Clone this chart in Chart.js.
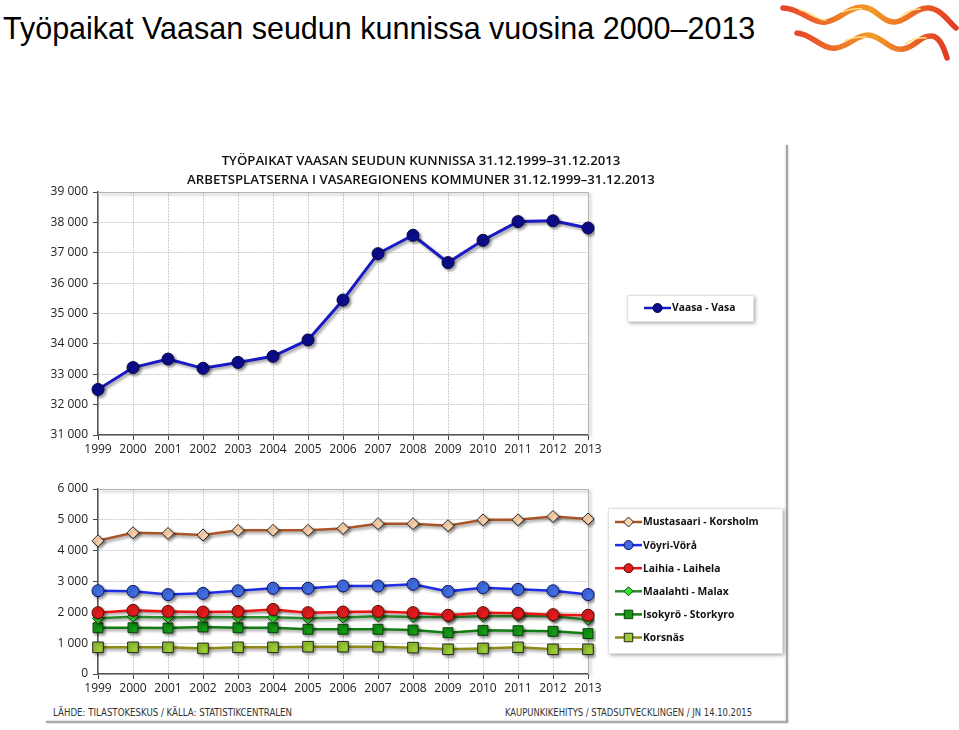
<!DOCTYPE html>
<html>
<head>
<meta charset="utf-8">
<script src="https://cdn.jsdelivr.net/npm/chart.js@4.4.0/dist/chart.umd.min.js"></script>
<style>
  body { margin: 0; background: #fff; width: 959px; height: 730px; overflow: hidden; position: relative; font-family: "Liberation Sans", Arial, sans-serif; }
  #heading { position: absolute; left: 3px; top: 10px; font-size: 30.5px; line-height: 36px; color: #000; white-space: nowrap; }
  #logo { position: absolute; left: 776px; top: 0; }
  .edge { position: absolute; background: #a9a9a9; box-shadow: 0 0 2px rgba(0,0,0,.35); }
  .wrap { position: absolute; left: 40px; width: 762px; }
  #topWrap { top: 140px; height: 323px; }
  #bottomWrap { top: 470px; height: 234px; }
  .foot { position: absolute; top: 707px; font-size: 10px; color: #333; white-space: nowrap; transform-origin: 0 0;
          font-family: "Liberation Sans Narrow", "DejaVu Sans Condensed", sans-serif; }
</style>
</head>
<body>
<div id="heading">Työpaikat Vaasan seudun kunnissa vuosina 2000–2013</div>
<svg id="logo" width="183" height="64" viewBox="776 0 183 64">
  <defs>
    <linearGradient id="wave" x1="0" y1="0" x2="1" y2="0">
      <stop offset="0" stop-color="#e8452a"/>
      <stop offset="0.5" stop-color="#f39a26"/>
      <stop offset="1" stop-color="#e23a24"/>
    </linearGradient>
  </defs>
  <g fill="none" stroke-linecap="round">
    <path d="M783,8 C800,8 812,24 826,22 C840,20 848,7 862,7 C876,7 882,23 895,22 C908,21 915,7 929,8 C941,9 949,22 956,28" stroke="url(#wave)" stroke-width="5.5"/>
    <path d="M797,33 C812,34 822,50 836,48 C850,46 856,35 868,35 C881,35 889,51 903,49 C916,47 920,35 932,36 C941,37 945,52 947,58" stroke="url(#wave)" stroke-width="5.5"/>
    <path d="M800,10 C812,12 818,21 826,20 M842,12 C850,9 856,8 862,9 M900,17 C906,12 912,9 920,9" stroke="#fde08a" stroke-width="1.5"/>
    <path d="M845,41 C852,37 858,37 866,37 M905,44 C912,39 918,37 926,38" stroke="#fde08a" stroke-width="1.5"/>
  </g>
</svg>
<div class="edge" style="left:786px;top:145px;width:2px;height:577px"></div>
<div class="edge" style="left:46px;top:721px;width:742px;height:2px"></div>
<div class="wrap" id="topWrap"><canvas id="topChart" width="762" height="323"></canvas></div>
<div class="wrap" id="bottomWrap"><canvas id="bottomChart" width="762" height="234"></canvas></div>
<div class="foot" id="footLeft" style="left:53px" data-w="239">LÄHDE: TILASTOKESKUS / KÄLLA: STATISTIKCENTRALEN</div>
<div class="foot" id="footRight" style="left:505px" data-w="247">KAUPUNKIKEHITYS  / STADSUTVECKLINGEN / JN 14.10.2015</div>

<script>
// data
const years = ["1999", "2000", "2001", "2002", "2003", "2004", "2005", "2006", "2007", "2008", "2009", "2010", "2011", "2012", "2013"];

const vaasa      = [32500, 33220, 33500, 33195, 33390, 33590, 34130, 35445, 36970, 37575, 36675, 37410, 38025, 38050, 37815];

const mustasaari = [4320, 4580, 4560, 4510, 4660, 4660, 4660, 4720, 4875, 4875, 4810, 5000, 5000, 5110, 5030];
const voyri      = [2700, 2680, 2575, 2615, 2700, 2780, 2780, 2855, 2855, 2910, 2680, 2800, 2745, 2700, 2575];
const laihia     = [1990, 2065, 2030, 2010, 2030, 2095, 1990, 2010, 2030, 1990, 1905, 1990, 1970, 1925, 1905];
const maalahti   = [1805, 1860, 1830, 1850, 1840, 1840, 1805, 1830, 1870, 1850, 1850, 1870, 1880, 1880, 1760];
const isokyro    = [1500, 1500, 1490, 1525, 1500, 1500, 1450, 1450, 1450, 1425, 1340, 1415, 1405, 1385, 1310];
const korsnas    = [865, 865, 865, 830, 865, 865, 885, 885, 885, 855, 800, 830, 865, 800, 800];

const topTitle = [
  "TYÖPAIKAT VAASAN SEUDUN KUNNISSA 31.12.1999–31.12.2013",
  "ARBETSPLATSERNA I VASAREGIONENS KOMMUNER 31.12.1999–31.12.2013"
];

const fmt = (v) => String(v).replace(/\B(?=(\d{3})+(?!\d))/g, " ");
const tickFont = { family: "Open Sans", size: 12 };

// drop shadow for lines and markers, light frame on top/right of plot
const plotStyle = {
  id: "plotStyle",
  beforeDatasetsDraw(chart) {
    const { ctx, chartArea: a } = chart;
    ctx.save();
    ctx.shadowColor = "rgba(0,0,0,0.35)";
    ctx.shadowBlur = 3;
    ctx.shadowOffsetX = 2;
    ctx.shadowOffsetY = 2;
    ctx.strokeStyle = "#b5b5b5";
    ctx.lineWidth = 1;
    ctx.beginPath();
    ctx.moveTo(a.left, a.top + 0.5);
    ctx.lineTo(a.right + 0.5, a.top + 0.5);
    ctx.lineTo(a.right + 0.5, a.bottom);
    ctx.stroke();
    ctx.shadowColor = "rgba(0,0,0,0.4)";
  },
  afterDatasetsDraw(chart) {
    chart.ctx.restore();
  }
};

function marker(ctx, style, x, y, r, fill, stroke) {
  ctx.beginPath();
  if (style === "circle") {
    ctx.arc(x, y, r, 0, Math.PI * 2);
  } else if (style === "rectRot") {
    ctx.moveTo(x, y - r); ctx.lineTo(x + r, y); ctx.lineTo(x, y + r); ctx.lineTo(x - r, y); ctx.closePath();
  } else {
    const s = r * Math.SQRT1_2;
    ctx.rect(x - s, y - s, 2 * s, 2 * s);
  }
  ctx.fillStyle = fill;
  ctx.fill();
  ctx.strokeStyle = stroke;
  ctx.lineWidth = 1;
  ctx.stroke();
}

// legend in a white box with shadow
const boxLegend = {
  id: "boxLegend",
  afterDraw(chart, args, o) {
    const ctx = chart.ctx;
    const [bx, by, bw, bh] = o.box;
    ctx.save();
    ctx.shadowColor = "rgba(0,0,0,0.4)";
    ctx.shadowBlur = 4;
    ctx.shadowOffsetX = 2;
    ctx.shadowOffsetY = 2;
    ctx.fillStyle = "#fff";
    ctx.fillRect(bx, by, bw, bh);
    ctx.restore();
    ctx.save();
    ctx.strokeStyle = "#e2e2e2";
    ctx.strokeRect(bx + 0.5, by + 0.5, bw, bh);
    ctx.font = "bold 10.3px 'Open Sans'";
    ctx.textBaseline = "middle";
    chart.data.datasets.forEach((ds, i) => {
      const y = o.y0 + i * o.step;
      ctx.strokeStyle = ds.borderColor;
      ctx.lineWidth = 2.5;
      ctx.beginPath();
      ctx.moveTo(o.x0, y);
      ctx.lineTo(o.x0 + 27, y);
      ctx.stroke();
      marker(ctx, ds.pointStyle, o.x0 + 13.5, y, ds.legendRadius, ds.pointBackgroundColor, ds.pointBorderColor);
      ctx.fillStyle = "#111";
      ctx.fillText(ds.label, o.x0 + 28, y + 0.5);
    });
    ctx.restore();
  }
};

function scales(min, max, xHeight) {
  return {
    x: {
      offset: false,
      grid: { color: "#cdcdcd", tickColor: "#444", tickLength: 5 },
      border: { color: "#555", width: 1.5, dash: [2, 1] },
      ticks: { color: "#222", font: tickFont, padding: 2, maxRotation: 0, autoSkip: false },
      afterFit: (s) => { s.height = xHeight; }
    },
    y: {
      min: min,
      max: max,
      grid: { color: "#cdcdcd", tickColor: "#444", tickLength: 5 },
      border: { color: "#555", width: 1.5, dash: [2, 1] },
      ticks: { stepSize: 1000, color: "#222", font: tickFont, padding: 5, callback: fmt },
      afterFit: (s) => { s.width = 58; }
    },
    space: {
      position: "right",
      grid: { display: false },
      border: { display: false },
      ticks: { display: false },
      afterFit: (s) => { s.width = 214; }
    }
  };
}

function line(label, data, color, style, radius, fill, stroke, width, legendRadius) {
  return {
    label: label,
    data: data,
    borderColor: color,
    borderWidth: width,
    pointStyle: style,
    pointRadius: radius,
    pointHoverRadius: radius,
    pointBackgroundColor: fill,
    pointBorderColor: stroke,
    pointBorderWidth: 1,
    legendRadius: legendRadius,
    tension: 0
  };
}

new Chart(document.getElementById("topChart"), {
  type: "line",
  data: {
    labels: years,
    datasets: [line("Vaasa - Vasa", vaasa, "#1a1ac4", "circle", 6, "#0c0c8c", "#05054a", 3, 4.5)]
  },
  options: {
    responsive: false,
    animation: false,
    devicePixelRatio: 1,
    layout: { padding: 0 },
    scales: scales(31000, 39000, 28),
    plugins: {
      legend: { display: false },
      tooltip: { enabled: false },
      title: {
        display: true,
        text: topTitle,
        color: "#111",
        font: { family: "Open Sans", size: 13.2, weight: "600", lineHeight: 19 / 13.2 },
        padding: { top: 12, bottom: 2 }
      },
      boxLegend: { box: [587, 155, 126, 26], x0: 604, y0: 168, step: 0 }
    }
  },
  plugins: [plotStyle, boxLegend]
});

new Chart(document.getElementById("bottomChart"), {
  type: "line",
  data: {
    labels: years,
    datasets: [
      line("Mustasaari - Korsholm", mustasaari, "#a8552a", "rectRot", 6, "#fcd3ae", "#222", 2.5, 5),
      line("Vöyri-Vörå", voyri, "#1c2ee6", "circle", 6, "#3f6de0", "#10106a", 2.5, 4.5),
      line("Laihia - Laihela", laihia, "#ee1414", "circle", 6, "#e01c1c", "#5a0606", 2.5, 4.5),
      line("Maalahti - Malax", maalahti, "#2b8c2b", "rectRot", 5.5, "#2ee62e", "#124012", 2.5, 4.5),
      line("Isokyrö - Storkyro", isokyro, "#117c11", "rect", 7, "#149a14", "#0a400a", 2.5, 6),
      line("Korsnäs", korsnas, "#8c8c14", "rect", 7.5, "#9acd32", "#222", 2.5, 6)
    ]
  },
  options: {
    responsive: false,
    animation: false,
    devicePixelRatio: 1,
    layout: { padding: { top: 19 } },
    scales: scales(0, 6000, 30),
    plugins: {
      legend: { display: false },
      tooltip: { enabled: false },
      boxLegend: { box: [568, 38, 174, 145], x0: 575, y0: 52, step: 23.1 }
    }
  },
  plugins: [plotStyle, boxLegend]
});

// squeeze the footer texts to the width they have in the picture
document.querySelectorAll(".foot").forEach((el) => {
  const w = el.getBoundingClientRect().width;
  el.style.transform = "scaleX(" + (Number(el.dataset.w) / w) + ")";
});
</script>
</body>
</html>
